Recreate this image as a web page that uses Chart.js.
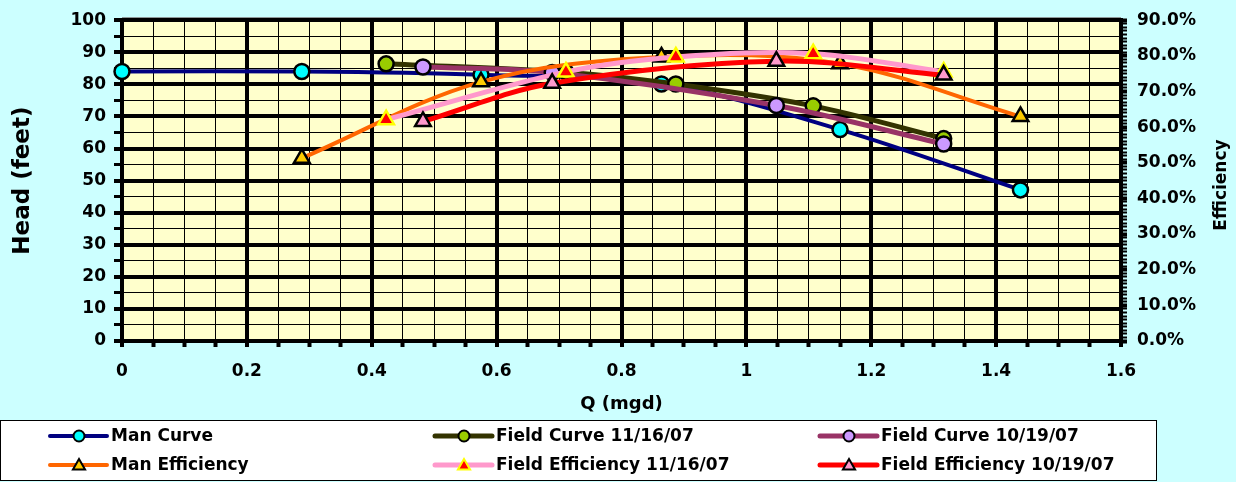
<!DOCTYPE html>
<html>
<head>
<meta charset="utf-8">
<title>Pump Curves</title>
<script src="https://cdn.jsdelivr.net/npm/chart.js@4.4.1/dist/chart.umd.min.js"></script>
<style>
  html, body { margin: 0; padding: 0; background: #ccffff; }
  canvas { display: block; }
</style>
</head>
<body>
<canvas id="pumpChart" width="1236" height="482"></canvas>
<script>
// flow in mgd, head in feet, efficiency in percent
const qMan       = [0, 0.288, 0.575, 0.864, 1.150, 1.439];
const headMan    = [84.0, 84.0, 83.0, 80.1, 65.9, 47.1];
const qManEff    = [0.288, 0.575, 0.864, 1.150, 1.439];
const effMan     = [51.3, 72.7, 79.7, 77.8, 63.0];

const qField1116    = [0.423, 0.711, 0.887, 1.107, 1.316];
const headField1116 = [86.4, 83.8, 80.1, 73.3, 63.1];
const effField1116  = [62.1, 75.5, 79.7, 80.6, 75.5];

const qField1019    = [0.482, 0.689, 1.048, 1.316];
const headField1019 = [85.4, 83.7, 73.4, 61.4];
const effField1019  = [61.6, 72.3, 78.5, 74.6];

// labelled ticks
const qLabels    = [0, 0.2, 0.4, 0.6, 0.8, 1, 1.2, 1.4, 1.6];
const headLabels = [0, 10, 20, 30, 40, 50, 60, 70, 80, 90, 100];
const effLabels  = [0, 10, 20, 30, 40, 50, 60, 70, 80, 90];

const zip = (xs, ys) => xs.map((x, i) => ({ x: x, y: ys[i] }));

const boldFont = size => ({ family: '"DejaVu Sans", sans-serif', size: size, weight: 'bold' });

// series in legend order (row by row)
const series = [
    { label: 'Man Curve',                 data: zip(qMan, headMan),             axis: 'y',  line: '#000080', fill: '#00ffff', edge: '#000', style: 'circle',   width: 4 },
    { label: 'Field Curve 11/16/07',      data: zip(qField1116, headField1116), axis: 'y',  line: '#333300', fill: '#99cc00', edge: '#000', style: 'circle',   width: 5 },
    { label: 'Field Curve 10/19/07',      data: zip(qField1019, headField1019), axis: 'y',  line: '#993366', fill: '#cc99ff', edge: '#000', style: 'circle',   width: 5 },
    { label: 'Man Efficiency',            data: zip(qManEff, effMan),           axis: 'y1', line: '#ff6600', fill: '#ffcc00', edge: '#000', style: 'triangle', width: 4 },
    { label: 'Field Efficiency 11/16/07', data: zip(qField1116, effField1116),  axis: 'y1', line: '#ff99cc', fill: '#ff0000', edge: '#ffff00', style: 'triangle', width: 5 },
    { label: 'Field Efficiency 10/19/07', data: zip(qField1019, effField1019),  axis: 'y1', line: '#ff0000', fill: '#ff99cc', edge: '#000', style: 'triangle', width: 5 },
];

// sky background, yellow plot area, grey top edge
const paperBg = {
    id: 'paperBg',
    beforeDraw(chart) {
        const { ctx, chartArea: a } = chart;
        ctx.save();
        ctx.fillStyle = '#ccffff';
        ctx.fillRect(0, 0, chart.width, chart.height);
        ctx.fillStyle = '#ffffcc';
        ctx.fillRect(a.left, a.top, a.right - a.left, a.bottom - a.top);
        ctx.fillStyle = '#808080';
        ctx.fillRect(a.left, a.top - 3, a.right - a.left, 2);
        ctx.restore();
    }
};

// right-hand axis title, reading upwards like the left one
const effTitle = {
    id: 'effTitle',
    afterDraw(chart) {
        const ctx = chart.ctx;
        ctx.save();
        ctx.translate(1222, 185);
        ctx.rotate(-Math.PI / 2);
        ctx.fillStyle = '#000';
        ctx.font = 'bold 17px "DejaVu Sans", sans-serif';
        ctx.textAlign = 'center';
        ctx.textBaseline = 'middle';
        ctx.fillText('Efficiency', 0, 0);
        ctx.restore();
    }
};

function drawMarker(ctx, style, x, y, r) {
    ctx.beginPath();
    if (style === 'circle') {
        ctx.arc(x, y, r, 0, Math.PI * 2);
    } else {
        const h = r * 1.5, w = r * Math.sqrt(3);
        ctx.moveTo(x, y - r);
        ctx.lineTo(x + w / 2, y - r + h);
        ctx.lineTo(x - w / 2, y - r + h);
        ctx.closePath();
    }
    ctx.fill();
    ctx.stroke();
}

// boxed three-column legend under the x axis
const boxLegend = {
    id: 'boxLegend',
    afterDraw(chart) {
        const ctx = chart.ctx;
        const cols = [50, 435, 820];
        const rows = [436, 465];
        ctx.save();
        ctx.fillStyle = '#fff';
        ctx.fillRect(0, 420, 1156, 60);
        ctx.strokeStyle = '#000';
        ctx.lineWidth = 1;
        ctx.strokeRect(0.5, 420.5, 1156, 60);

        series.forEach((s, i) => {
            const x0 = cols[i % 3];
            const y0 = rows[Math.floor(i / 3)];
            ctx.strokeStyle = s.line;
            ctx.lineWidth = s.width;
            ctx.lineCap = 'round';
            ctx.beginPath();
            ctx.moveTo(x0, y0);
            ctx.lineTo(x0 + 57, y0);
            ctx.stroke();

            ctx.fillStyle = s.fill;
            ctx.strokeStyle = s.edge;
            ctx.lineWidth = 2;
            drawMarker(ctx, s.style, x0 + 29, y0 + (s.style === 'triangle' ? 1 : 0), s.style === 'circle' ? 5.5 : 7);

            ctx.fillStyle = '#000';
            ctx.font = 'bold 17px "DejaVu Sans", sans-serif';
            ctx.textBaseline = 'middle';
            ctx.textAlign = 'left';
            ctx.fillText(s.label, x0 + 61, y0 + 1);
        });
        ctx.restore();
    }
};

new Chart(document.getElementById('pumpChart'), {
    type: 'line',
    data: {
        datasets: series.map((s, i) => ({
            label: s.label,
            data: s.data,
            yAxisID: s.axis,
            borderColor: s.line,
            borderWidth: s.width,
            backgroundColor: s.fill,
            pointBackgroundColor: s.fill,
            pointBorderColor: s.edge,
            pointBorderWidth: 2.5,
            pointStyle: s.style,
            pointRadius: s.style === 'circle' ? 7.5 : 9,
            tension: 0.35,
            fill: false,
            clip: false,
            order: series.length - i,
        }))
    },
    options: {
        responsive: false,
        animation: false,
        layout: { padding: { top: 14, bottom: 63, left: 0, right: 0 } },
        plugins: {
            legend: { display: false },
            tooltip: { enabled: false },
        },
        scales: {
            x: {
                type: 'linear',
                min: 0,
                max: 1.6,
                ticks: {
                    stepSize: 0.05,
                    autoSkip: false,
                    maxRotation: 0,
                    padding: 14,
                    color: '#000',
                    font: boldFont(17),
                    callback: v => {
                        const k = Math.round(v * 100) / 100;
                        return qLabels.includes(k) ? String(k) : '';
                    }
                },
                grid: {
                    color: '#000',
                    lineWidth: c => (c.tick && Math.round(c.tick.value * 100) % 20 === 0) ? 4 : 1,
                    tickLength: 6,
                    tickWidth: 4,
                    tickColor: '#000',
                },
                border: { color: '#000', width: 4 },
                title: {
                    display: true,
                    text: 'Q (mgd)',
                    color: '#000',
                    font: boldFont(18),
                    padding: { top: 0, bottom: 4 },
                },
                afterFit: s => { s.height = 78; }
            },
            y: {
                position: 'left',
                min: 0,
                max: 100,
                ticks: {
                    stepSize: 5,
                    autoSkip: false,
                    padding: 8,
                    color: '#000',
                    font: boldFont(17),
                    callback: v => headLabels.includes(v) ? String(v) : ''
                },
                grid: {
                    color: '#000',
                    lineWidth: c => (c.tick && c.tick.value % 10 === 0) ? 4 : 1,
                    tickLength: 8,
                    tickWidth: c => (c.tick && c.tick.value % 10 === 0) ? 4 : 3,
                    tickColor: '#000',
                },
                border: { color: '#000', width: 4 },
                title: {
                    display: true,
                    text: 'Head (feet)',
                    color: '#000',
                    font: boldFont(23),
                    padding: { top: 9, bottom: 0 },
                },
                afterFit: s => { s.width = 122; }
            },
            y1: {
                position: 'right',
                min: 0,
                max: 90,
                ticks: {
                    stepSize: 1,
                    autoSkip: false,
                    padding: 10,
                    color: '#000',
                    font: boldFont(17),
                    callback: v => effLabels.includes(v) ? v.toFixed(1) + '%' : ''
                },
                grid: {
                    drawOnChartArea: false,
                    tickLength: 6,
                    tickWidth: c => (c.tick && c.tick.value % 10 === 0) ? 4 : 2,
                    tickColor: '#000',
                },
                border: { color: '#000', width: 4 },
                afterFit: s => { s.width = 115; }
            }
        }
    },
    plugins: [paperBg, effTitle, boxLegend]
});
</script>
</body>
</html>
